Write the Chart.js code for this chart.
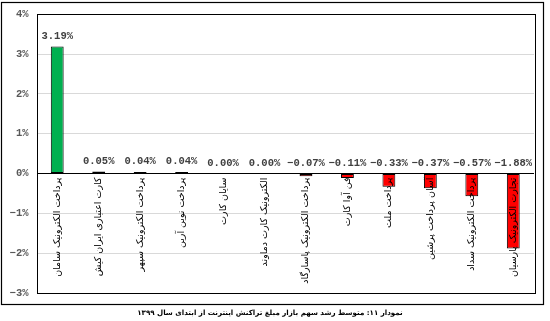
<!DOCTYPE html>
<html><head><meta charset="utf-8">
<script src="https://cdn.jsdelivr.net/npm/chart.js@4/dist/chart.umd.min.js"></script>
<style>html,body{margin:0;padding:0;background:#fff;}#wrap{width:550px;height:321px;}</style>
</head><body><div id="wrap"><canvas id="c" width="550" height="321"></canvas></div>
<script>
const categories = [
  "پرداخت الکترونیک سامان",
  "کارت اعتباری ایران کیش",
  "پرداخت الکترونیک سپهر",
  "پرداخت نوین آرین",
  "سایان کارت",
  "الکترونیک کارت دماوند",
  "پرداخت الکترونیک پاسارگاد",
  "فن آوا کارت",
  "پرداخت ملت",
  "آسان پرداخت پرشین",
  "پرداخت الکترونیک سداد",
  "تجارت الکترونیک پارسیان"
];
const shareGrowth = [3.19, 0.05, 0.04, 0.04, 0.00, 0.00, -0.07, -0.11, -0.33, -0.37, -0.57, -1.88];
const yTicks = [-3, -2, -1, 0, 1, 2, 3, 4];
const chartTitle = "نمودار ۱۱: متوسط رشد سهم بازار مبلغ تراکنش اینترنت از ابتدای سال ۱۳۹۹";

const barColors = ["#00B050", "#00B0F0", "#3a3a3a", "#3a3a3a", "#3a3a3a", "#3a3a3a",
  "#FF0000", "#FF0000", "#FF0000", "#FF0000", "#FF0000", "#FF0000"];

function fmtPct(v, digits) {
  const s = Math.abs(v).toFixed(digits) + "%";
  return (v < 0 ? "\u2212" : "") + s;
}

const labelPlugin = {
  id: "labelPlugin",
  afterDatasetsDraw(chart) {
    const ctx = chart.ctx;
    const xs = chart.scales.x, ys = chart.scales.y;
    const y0 = ys.getPixelForValue(0);
    const meta = chart.getDatasetMeta(0);
    ctx.save();
    ctx.font = "bold 10.5px 'Liberation Mono', monospace";
    ctx.fillStyle = "#404040";
    ctx.textAlign = "center";
    ctx.textBaseline = "alphabetic";
    shareGrowth.forEach((v, i) => {
      const el = meta.data[i];
      const top = Math.min(ys.getPixelForValue(v), y0);
      ctx.fillText(fmtPct(v, 2), el.x, top - 8);
    });
    ctx.font = "9.5px 'DejaVu Sans', sans-serif";
    ctx.fillStyle = "#000";
    ctx.direction = "rtl";
    categories.forEach((c, i) => {
      const x = xs.getPixelForValue(i);
      ctx.save();
      ctx.translate(x, y0 + 4);
      ctx.rotate(-Math.PI / 2);
      ctx.textAlign = "right";
      ctx.textBaseline = "middle";
      ctx.fillText(c, 0, 0);
      ctx.restore();
    });
    ctx.restore();
  },
  afterDraw(chart) {
    const ctx = chart.ctx;
    const a = chart.chartArea;
    ctx.save();
    ctx.strokeStyle = "#000";
    ctx.lineWidth = 1;
    ctx.strokeRect(Math.round(a.left) + 0.5, Math.round(a.top) + 0.5,
      Math.round(a.right - a.left), Math.round(a.bottom - a.top));
    ctx.lineWidth = 1.2;
    ctx.strokeRect(1.5, 2.5, 542, 302);
    ctx.font = "bold 7.1px 'DejaVu Sans', sans-serif";
    ctx.fillStyle = "#000";
    ctx.direction = "rtl";
    ctx.textAlign = "center";
    ctx.textBaseline = "middle";
    ctx.fillText(chartTitle, 270, 313);
    ctx.restore();
  }
};

new Chart(document.getElementById("c"), {
  type: "bar",
  data: {
    labels: categories,
    datasets: [{
      data: shareGrowth,
      backgroundColor: barColors,
      borderColor: "#000",
      borderWidth: 1,
      borderSkipped: false,
      barPercentage: 0.31,
      categoryPercentage: 1.0
    }]
  },
  options: {
    responsive: false,
    animation: false,
    devicePixelRatio: 1,
    layout: { padding: { left: 6.5, right: 16, top: 13.5, bottom: 28 } },
    plugins: { legend: { display: false }, tooltip: { enabled: false }, title: { display: false } },
    scales: {
      x: { display: false },
      y: {
        min: yTicks[0], max: yTicks[yTicks.length - 1],
        afterBuildTicks(scale) { scale.ticks = yTicks.map(v => ({ value: v })); },
        afterFit(scale) { scale.width = 30; },
        border: { display: false },
        grid: {
          drawTicks: false,
          color: c => (c.tick && c.tick.value === 0) ? "#000" : "#d9d9d9",
          lineWidth: 1
        },
        ticks: {
          padding: 8,
          color: "#595959",
          font: { family: "'Liberation Mono', monospace", weight: "bold", size: 10.5 },
          callback: v => fmtPct(v, 0)
        }
      }
    }
  },
  plugins: [labelPlugin]
});
</script></body></html>
